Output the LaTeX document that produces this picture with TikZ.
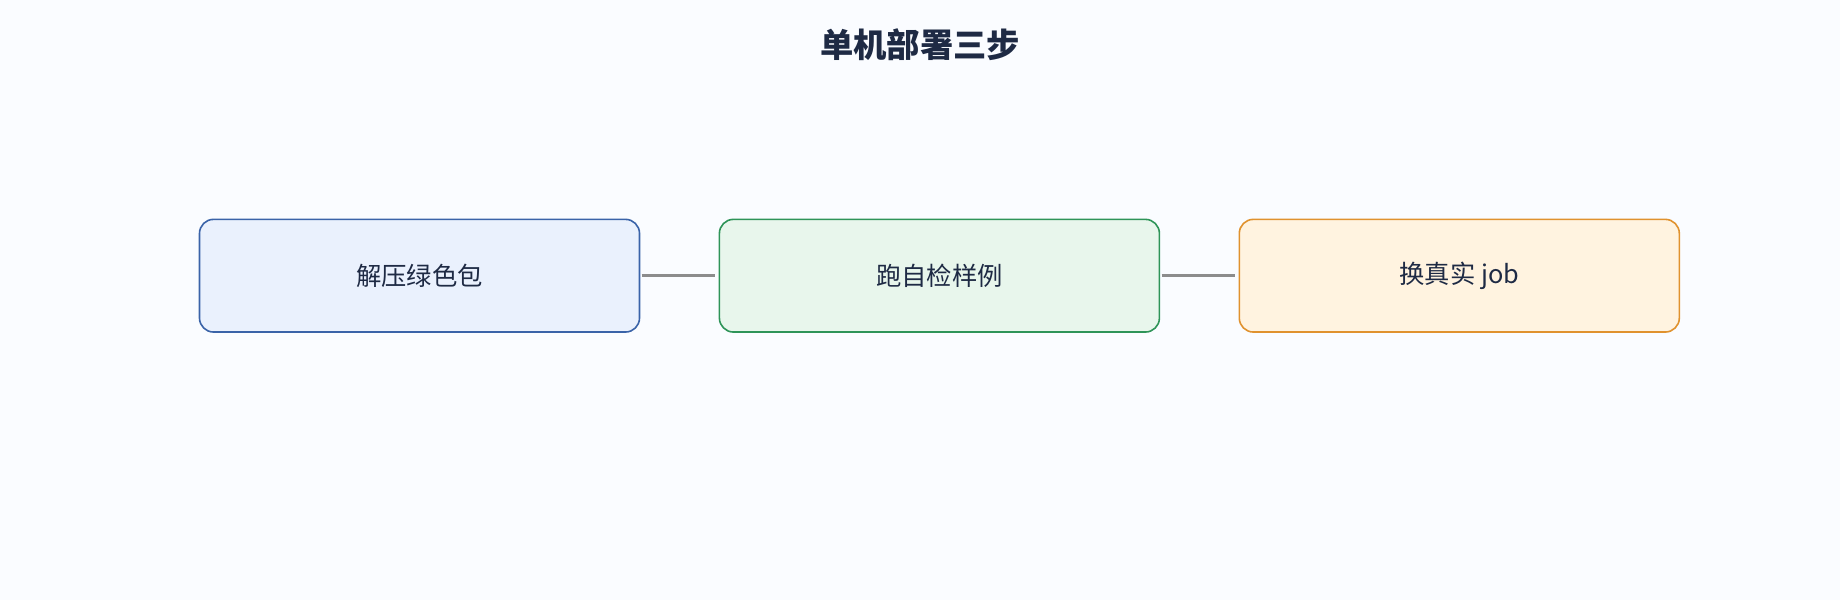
\documentclass[tikz,border=0pt]{standalone}
\usepackage{fontspec}
\setmainfont{Noto Sans CJK SC}
\begin{document}
\begin{tikzpicture}[x=0.75pt,y=-0.75pt,
  box/.style={rounded corners=10.5pt,line width=1.2pt,minimum width=330pt,minimum height=84.5pt,text=txt,font=\fontsize{19}{22}\selectfont},
  link/.style={draw=gray!90!white,line width=2.4pt}]
\definecolor{bg}{HTML}{FAFCFF}
\definecolor{txt}{HTML}{1E2A44}
\fill[bg] (0,0) rectangle (1840,600);
\useasboundingbox (0,0) rectangle (1840,600);
\node[font=\fontsize{25}{28}\selectfont\bfseries,text=txt] (title) at (920,45) {单机部署三步};
\node[box,draw={rgb,255:red,58;green,99;blue,168},fill={rgb,255:red,234;green,241;blue,253}] (a) at (419.5,275.7) {解压绿色包};
\node[box,draw={rgb,255:red,46;green,148;blue,88},fill={rgb,255:red,232;green,246;blue,236}] (b) at (939.4,275.7) {跑自检样例};
\node[box,draw={rgb,255:red,224;green,146;blue,46},fill={rgb,255:red,255;green,243;blue,224}] (c) at (1459.3,275.7) {换真实 job};
\draw[link] ([xshift=1pt]a.east) -- ([xshift=-3pt]b.west);
\draw[link] ([xshift=1pt]b.east) -- ([xshift=-3pt]c.west);
\end{tikzpicture}
\end{document}
